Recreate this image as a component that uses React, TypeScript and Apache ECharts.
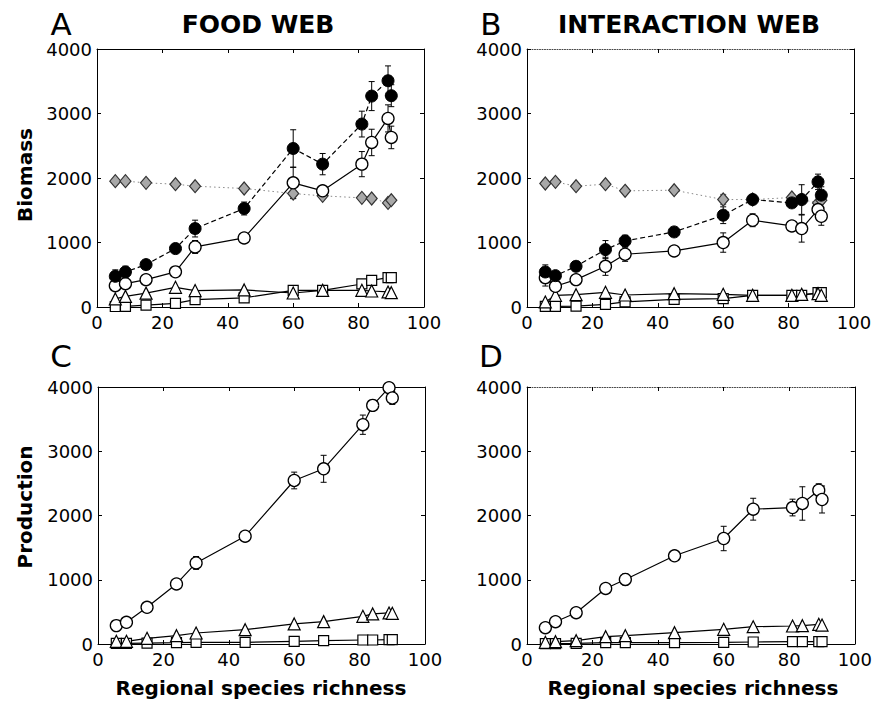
import React, { useEffect, useRef } from "react";
import * as echarts from "echarts";

// Regional species richness (x positions shared by all panels)
const richness = [5.6, 8.7, 15, 24, 30, 45, 60, 69, 81, 84, 89, 90];
const xTicks = [0, 20, 40, 60, 80, 100];
const yTicks = [0, 1000, 2000, 3000, 4000];

// Panel A – Food web, biomass
const aFilled = [476, 543, 657, 906, 1216, 1527, 2458, 2215, 2836, 3270, 3508, 3276];
const aFilledErr = [100, 90, 30, 40, 130, 100, 290, 165, 200, 225, 230, 170];
const aOpen = [330, 362, 424, 545, 931, 1071, 1925, 1801, 2215, 2551, 2924, 2629];
const aOpenErr = [40, 40, 60, 30, 100, 30, 240, 60, 195, 205, 210, 175];
const aDiamond = [1951, 1951, 1925, 1904, 1873, 1837, 1759, 1723, 1692, 1682, 1614, 1656];
const aDiamondErr = [20, 20, 20, 20, 20, 30, 80, 30, 30, 30, 30, 30];
const aTri = [125, 165, 215, 305, 255, 265, 217, 259, 259, 248, 233, 222];
const aSq = [8, 10, 30, 55, 114, 142, 259, 259, 357, 414, 455, 455];

// Panel B – Interaction web, biomass
const bFilled = [543, 486, 631, 890, 1024, 1164, 1423, 1666, 1614, 1666, 1940, 1734];
const bFilledErr = [110, 50, 70, 140, 90, 70, 130, 70, 60, 230, 120, 130];
const bOpen = [455, 321, 424, 631, 818, 869, 999, 1345, 1257, 1216, 1511, 1407];
const bOpenErr = [130, 60, 80, 140, 110, 80, 150, 100, 50, 210, 80, 140];
const bDiamond = [1915, 1940, 1873, 1904, 1801, 1811, 1666, 1666, 1697, 1666, 1614, 1656];
const bDiamondErr = [20, 20, 30, 20, 30, 30, 80, 60, 30, 30, 30, 30];
const bTri = [78, 181, 191, 228, 186, 207, 197, 181, 181, 197, 207, 181];
const bSq = [10, 10, 15, 41, 78, 119, 129, 181, 181, 181, 222, 222];

// Panel C – Food web, production
const cOpen = [286, 338, 571, 935, 1262, 1678, 2545, 2727, 3413, 3714, 3990, 3829];
const cOpenErr = [30, 30, 40, 60, 100, 30, 130, 210, 150, 80, 40, 100];
const cTri = [42, 42, 88, 130, 171, 223, 312, 348, 431, 468, 483, 478];
const cSq = [10, 10, 15, 20, 26, 26, 42, 52, 62, 62, 68, 68];

// Panel D – Interaction web, production
const dOpen = [254, 347, 487, 865, 1005, 1373, 1642, 2098, 2124, 2187, 2394, 2249];
const dOpenErr = [20, 20, 30, 40, 90, 20, 190, 170, 130, 260, 100, 210];
const dTri = [26, 36, 52, 114, 130, 176, 228, 269, 280, 285, 306, 295];
const dSq = [5, 5, 10, 21, 21, 21, 26, 31, 36, 36, 36, 36];

const FONT = "DejaVu Sans";

const grids = [
  { left: 97, top: 49, width: 327, height: 258 },
  { left: 527, top: 49, width: 327, height: 258 },
  { left: 98, top: 387, width: 327, height: 257 },
  { left: 527, top: 387, width: 328, height: 257 },
];

const pair = (ys: number[]) => richness.map((x, i) => [x, ys[i]]);
const triple = (ys: number[], es: number[]) => richness.map((x, i) => [x, ys[i], es[i]]);

const markerStyles: Record<string, any> = {
  filled: {
    symbol: "circle",
    symbolSize: 12,
    itemStyle: { color: "#000", borderColor: "#000", borderWidth: 1 },
    lineStyle: { color: "#000", width: 1.2, type: [5, 3] },
  },
  open: {
    symbol: "circle",
    symbolSize: 12,
    itemStyle: { color: "#fff", borderColor: "#000", borderWidth: 1.3 },
    lineStyle: { color: "#000", width: 1.2, type: "solid" },
  },
  diamond: {
    symbol: "diamond",
    symbolSize: [11, 13],
    itemStyle: { color: "#a8a8a8", borderColor: "#333", borderWidth: 1.2 },
    lineStyle: { color: "#888", width: 1, type: [1.5, 3] },
  },
  tri: {
    symbol: "triangle",
    symbolSize: 12,
    itemStyle: { color: "#fff", borderColor: "#000", borderWidth: 1.2 },
    lineStyle: { color: "#000", width: 1.2, type: "solid" },
  },
  sq: {
    symbol: "rect",
    symbolSize: 10,
    itemStyle: { color: "#fff", borderColor: "#000", borderWidth: 1.2 },
    lineStyle: { color: "#000", width: 1.2, type: "solid" },
  },
};

function lineSeries(g: number, ys: number[], kind: string) {
  const s = markerStyles[kind];
  return {
    type: "line",
    xAxisIndex: 2 * g,
    yAxisIndex: 2 * g,
    data: pair(ys),
    symbol: s.symbol,
    symbolSize: s.symbolSize,
    showSymbol: true,
    itemStyle: s.itemStyle,
    lineStyle: s.lineStyle,
    z: 3,
    silent: true,
  };
}

function errSeries(g: number, ys: number[], es: number[], color = "#000") {
  return {
    type: "custom",
    xAxisIndex: 2 * g,
    yAxisIndex: 2 * g,
    data: triple(ys, es),
    clip: false,
    z: 2,
    silent: true,
    renderItem: (_params: any, api: any) => {
      const x = api.value(0);
      const y = api.value(1);
      const e = api.value(2);
      const hi = api.coord([x, y + e]);
      const lo = api.coord([x, y - e]);
      const w = 3;
      const st = { stroke: color, lineWidth: 1 };
      return {
        type: "group",
        children: [
          { type: "line", shape: { x1: hi[0], y1: hi[1], x2: lo[0], y2: lo[1] }, style: st },
          { type: "line", shape: { x1: hi[0] - w, y1: hi[1], x2: hi[0] + w, y2: hi[1] }, style: st },
          { type: "line", shape: { x1: lo[0] - w, y1: lo[1], x2: lo[0] + w, y2: lo[1] }, style: st },
        ],
      };
    },
  };
}

const plain = (v: number) => String(v);

function buildOption() {
  const xAxis: any[] = [];
  const yAxis: any[] = [];
  grids.forEach((_, g) => {
    const topDotted = g === 1 || g === 3;
    xAxis.push({
      type: "value",
      gridIndex: g,
      min: xTicks[0],
      max: xTicks[xTicks.length - 1],
      interval: 20,
      position: "bottom",
      axisLine: { show: true, onZero: false, lineStyle: { color: "#000", width: 1 } },
      axisTick: { show: true, inside: true, length: 4, lineStyle: { color: "#000" } },
      axisLabel: { show: true, color: "#000", fontFamily: FONT, fontSize: 18, margin: 6, formatter: plain },
      splitLine: { show: false },
    });
    xAxis.push({
      type: "value",
      gridIndex: g,
      min: xTicks[0],
      max: xTicks[xTicks.length - 1],
      interval: 20,
      position: "top",
      axisLine: {
        show: true,
        onZero: false,
        lineStyle: { color: topDotted ? "#444" : "#000", width: 1, type: topDotted ? [1, 1.5] : "solid" },
      },
      axisTick: { show: true, inside: true, length: 4, lineStyle: { color: "#000" } },
      axisLabel: { show: false },
      splitLine: { show: false },
    });
    yAxis.push({
      type: "value",
      gridIndex: g,
      min: yTicks[0],
      max: yTicks[yTicks.length - 1],
      interval: 1000,
      position: "left",
      axisLine: { show: true, onZero: false, lineStyle: { color: "#000", width: 1 } },
      axisTick: { show: true, inside: true, length: 4, lineStyle: { color: "#000" } },
      axisLabel: { show: true, color: "#000", fontFamily: FONT, fontSize: 18, margin: 5, formatter: plain },
      splitLine: { show: false },
    });
    yAxis.push({
      type: "value",
      gridIndex: g,
      min: yTicks[0],
      max: yTicks[yTicks.length - 1],
      interval: 1000,
      position: "right",
      axisLine: { show: true, onZero: false, lineStyle: { color: "#000", width: 1 } },
      axisTick: { show: true, inside: true, length: 4, lineStyle: { color: "#000" } },
      axisLabel: { show: false },
      splitLine: { show: false },
    });
  });

  const series: any[] = [
    // A
    errSeries(0, aDiamond, aDiamondErr, "#555"),
    errSeries(0, aFilled, aFilledErr),
    errSeries(0, aOpen, aOpenErr),
    lineSeries(0, aDiamond, "diamond"),
    lineSeries(0, aSq, "sq"),
    lineSeries(0, aTri, "tri"),
    lineSeries(0, aOpen, "open"),
    lineSeries(0, aFilled, "filled"),
    // B
    errSeries(1, bDiamond, bDiamondErr, "#555"),
    errSeries(1, bFilled, bFilledErr),
    errSeries(1, bOpen, bOpenErr),
    lineSeries(1, bDiamond, "diamond"),
    lineSeries(1, bSq, "sq"),
    lineSeries(1, bTri, "tri"),
    lineSeries(1, bOpen, "open"),
    lineSeries(1, bFilled, "filled"),
    // C
    errSeries(2, cOpen, cOpenErr),
    lineSeries(2, cSq, "sq"),
    lineSeries(2, cTri, "tri"),
    lineSeries(2, cOpen, "open"),
    // D
    errSeries(3, dOpen, dOpenErr),
    lineSeries(3, dSq, "sq"),
    lineSeries(3, dTri, "tri"),
    lineSeries(3, dOpen, "open"),
  ];

  const txt = (text: string, x: number, y: number, size: number, bold: boolean, rotation = 0) => ({
    type: "text",
    x,
    y,
    rotation,
    silent: true,
    style: {
      text,
      fill: "#000",
      fontFamily: FONT,
      fontSize: size,
      fontWeight: bold ? "bold" : "normal",
      align: "center",
      verticalAlign: "middle",
    },
  });

  const graphic = [
    txt("A", 61, 24, 31, false),
    txt("FOOD WEB", 258, 24, 25, true),
    txt("B", 491, 24, 31, false),
    txt("INTERACTION WEB", 689, 24, 25, true),
    txt("C", 61, 356, 31, false),
    txt("D", 491, 356, 31, false),
    txt("Biomass", 25, 175, 20, true, Math.PI / 2),
    txt("Production", 25, 507, 20, true, Math.PI / 2),
    txt("Regional species richness", 261, 688, 20, true),
    txt("Regional species richness", 693, 688, 20, true),
  ];

  return {
    animation: false,
    backgroundColor: "#fff",
    grid: grids.map((g) => ({ ...g, containLabel: false })),
    xAxis,
    yAxis,
    series,
    graphic,
  };
}

export default function App() {
  const ref = useRef<HTMLDivElement>(null);
  useEffect(() => {
    if (!ref.current) return;
    const chart = echarts.init(ref.current, undefined, { renderer: "svg" });
    chart.setOption(buildOption() as any);
    return () => chart.dispose();
  }, []);
  return (
    <div
      ref={ref}
      style={{ position: "fixed", left: 0, top: 0, width: 875, height: 704, background: "#fff" }}
    />
  );
}
